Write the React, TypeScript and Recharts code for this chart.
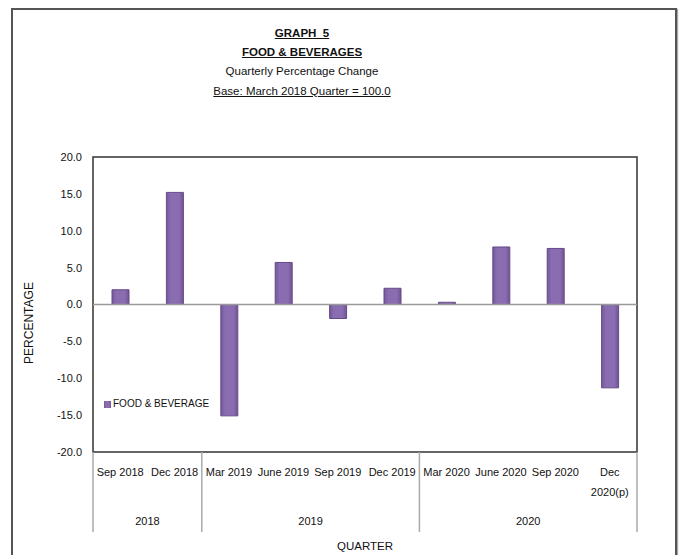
import { BarChart, Bar, XAxis, YAxis, Legend, ReferenceLine, ReferenceArea, Label } from "recharts"

const quarters = [
  "Sep 2018",
  "Dec 2018",
  "Mar 2019",
  "June 2019",
  "Sep 2019",
  "Dec 2019",
  "Mar 2020",
  "June 2020",
  "Sep 2020",
  "Dec 2020(p)",
]
const years = ["2018", "2018", "2019", "2019", "2019", "2019", "2020", "2020", "2020", "2020"]
const foodBeverage = [2.0, 15.2, -15.1, 5.7, -1.9, 2.2, 0.3, 7.8, 7.6, -11.3]
const yTicks = [-20, -15, -10, -5, 0, 5, 10, 15, 20]

const data = quarters.map((q, i) => ({ quarter: q, year: years[i], value: foodBeverage[i] }))

const W = 681
const H = 555
const PLOT_LEFT = 93
const PLOT_RIGHT = 637
const PLOT_TOP = 157
const PLOT_BOTTOM = 452
const BAND = (PLOT_RIGHT - PLOT_LEFT) / quarters.length
const FONT = "'Liberation Sans', Arial, sans-serif"
const FS = 11

function QuarterTick(props: any) {
  const { x, payload } = props
  const label: string = payload.value
  const m = label.match(/^(\w+) (\d{4}\(p\))$/)
  if (m) {
    return (
      <g>
        <text x={x} y={PLOT_BOTTOM + 20} textAnchor="middle" dominantBaseline="central" fontSize={FS} fill="#111" fontFamily={FONT}>
          {m[1]}
        </text>
        <text x={x} y={PLOT_BOTTOM + 40} textAnchor="middle" dominantBaseline="central" fontSize={FS} fill="#111" fontFamily={FONT}>
          {m[2]}
        </text>
      </g>
    )
  }
  return (
    <text x={x} y={PLOT_BOTTOM + 20} textAnchor="middle" dominantBaseline="central" fontSize={FS} fill="#111" fontFamily={FONT}>
      {label}
    </text>
  )
}

function YearTick(props: any) {
  const { x, index } = props
  const yr = years[index]
  const isStart = index === 0 || years[index - 1] !== yr
  if (!isStart) return <g />
  let size = 0
  while (years[index + size] === yr) size++
  const left = x - BAND / 2
  const right = left + size * BAND
  const isLast = index + size >= years.length
  return (
    <g>
      <line x1={left} x2={left} y1={PLOT_BOTTOM} y2={PLOT_BOTTOM + 80} stroke="#aaa" strokeWidth={1.5} />
      {isLast && <line x1={right} x2={right} y1={PLOT_BOTTOM} y2={PLOT_BOTTOM + 80} stroke="#aaa" strokeWidth={1.5} />}
      <text x={(left + right) / 2} y={PLOT_BOTTOM + 69} textAnchor="middle" dominantBaseline="central" fontSize={FS} fill="#111" fontFamily={FONT}>
        {yr}
      </text>
    </g>
  )
}

export default function App() {
  return (
    <div style={{ position: "absolute", left: 0, top: 0, width: W, height: H, overflow: "hidden", background: "#fff" }}>
      <div
        style={{
          position: "absolute",
          left: 11,
          top: 8,
          width: 662,
          height: 620,
          border: "2px solid #555",
          boxShadow: "1px 1px 1px #aaa",
        }}
      />
      <div style={{ position: "absolute", left: 0, top: 0, width: W, textAlign: "center", fontFamily: FONT, fontSize: 11.5, color: "#111" }}>
        <div style={{ position: "absolute", left: 0, width: 604, top: 27, fontWeight: "bold", textDecoration: "underline" }}>GRAPH&nbsp; 5</div>
        <div style={{ position: "absolute", left: 0, width: 604, top: 46, fontWeight: "bold", textDecoration: "underline" }}>FOOD &amp; BEVERAGES</div>
        <div style={{ position: "absolute", left: 0, width: 604, top: 65 }}>Quarterly Percentage Change</div>
        <div style={{ position: "absolute", left: 0, width: 604, top: 85, textDecoration: "underline" }}>Base: March 2018 Quarter = 100.0</div>
      </div>
      <div style={{ position: "absolute", left: 0, top: 0 }}>
        <BarChart
          width={W}
          height={H}
          data={data}
          margin={{ top: PLOT_TOP, right: W - PLOT_RIGHT, bottom: 23, left: 0 }}
          barCategoryGap={0}
        >
          <defs>
            <linearGradient id="barFill" x1="0" y1="0" x2="1" y2="0">
              <stop offset="0%" stopColor="#74589a" />
              <stop offset="25%" stopColor="#8a6cb0" />
              <stop offset="75%" stopColor="#8a6cb0" />
              <stop offset="100%" stopColor="#6f5394" />
            </linearGradient>
          </defs>
          <XAxis
            dataKey="quarter"
            xAxisId="q"
            height={40}
            axisLine={false}
            tickLine={false}
            interval={0}
            tick={<QuarterTick />}
          />
          <XAxis
            dataKey="year"
            xAxisId="y"
            height={40}
            axisLine={false}
            tickLine={false}
            interval={0}
            allowDuplicatedCategory
            tick={<YearTick />}
          >
            <Label value="QUARTER" position="bottom" offset={10} fontSize={11.5} fill="#111" fontFamily={FONT} />
          </XAxis>
          <YAxis
            width={PLOT_LEFT}
            domain={[-20, 20]}
            ticks={yTicks}
            tickFormatter={(v: number) => v.toFixed(1)}
            axisLine={false}
            tickLine={false}
            tickSize={0}
            tickMargin={11}
            tick={{ fontSize: FS, fill: "#111", fontFamily: FONT }}
          >
            <Label
              content={() => (
                <text
                  x={29}
                  y={323}
                  transform="rotate(-90 29 323)"
                  textAnchor="middle"
                  dominantBaseline="central"
                  fontSize={12}
                  fill="#111"
                  fontFamily={FONT}
                >
                  PERCENTAGE
                </text>
              )}
            />
          </YAxis>
          <ReferenceArea xAxisId="q" y1={-20} y2={20} fill="none" stroke="#333" strokeWidth={1.5} />
          <ReferenceLine xAxisId="q" y={0} stroke="#9a9a9a" strokeWidth={1.5} />
          <Legend
            layout="vertical"
            align="center"
            verticalAlign="middle"
            iconType="square"
            iconSize={7}
            formatter={(value: string) => <span style={{ color: "#111", marginLeft: -2 }}>{value}</span>}
            wrapperStyle={{ left: 104, top: 398, width: "auto", fontFamily: FONT, fontSize: 10 }}
          />
          <Bar
            xAxisId="q"
            dataKey="value"
            name="FOOD & BEVERAGE"
            fill="url(#barFill)"
            stroke="#654a88"
            strokeWidth={1}
            barSize={17}
            legendType="square"
            isAnimationActive={false}
          />
        </BarChart>
      </div>
    </div>
  )
}
